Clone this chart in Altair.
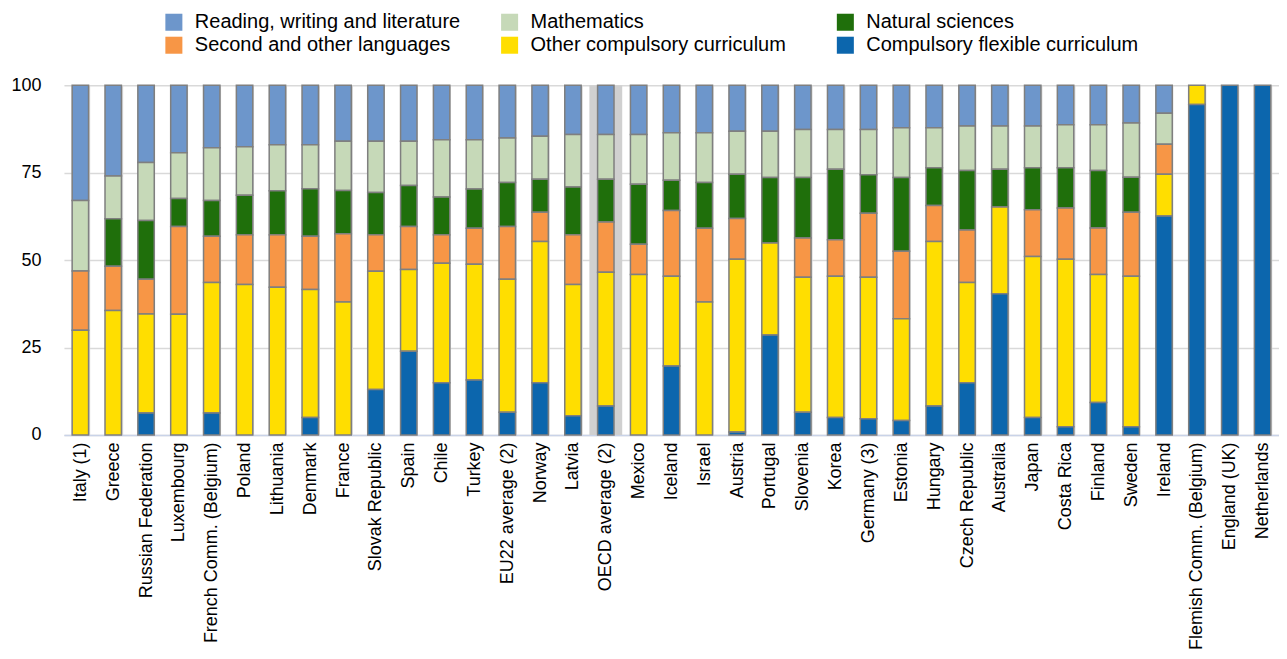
import altair as alt
import pandas as pd

countries = [
    "Italy (1)", "Greece", "Russian Federation", "Luxembourg", "French Comm. (Belgium)",
    "Poland", "Lithuania", "Denmark", "France", "Slovak Republic", "Spain", "Chile",
    "Turkey", "EU22 average (2)", "Norway", "Latvia", "OECD average (2)", "Mexico",
    "Iceland", "Israel", "Austria", "Portugal", "Slovenia", "Korea", "Germany (3)",
    "Estonia", "Hungary", "Czech Republic", "Australia", "Japan", "Costa Rica",
    "Finland", "Sweden", "Ireland", "Flemish Comm. (Belgium)", "England (UK)", "Netherlands",
]

flexible = [0, 0, 6.3, 0, 6.3, 0, 0, 5.0, 0, 13.0, 23.9, 14.9, 15.7, 6.5, 14.9, 5.5, 8.3, 0,
            19.7, 0, 0.8, 28.6, 6.5, 5.0, 4.6, 4.1, 8.3, 14.9, 40.4, 5.0, 2.3, 9.3, 2.3,
            62.6, 94.5, 100, 100]
other = [29.9, 35.6, 28.3, 34.5, 37.3, 43.0, 42.2, 36.6, 38.0, 33.8, 23.4, 34.2, 33.1, 38.0,
         40.4, 37.5, 38.2, 45.9, 25.7, 38.0, 49.4, 26.3, 38.6, 40.4, 40.5, 29.1, 47.0, 28.7,
         24.8, 46.0, 47.9, 36.6, 43.1, 11.9, 5.5, 0, 0]
languages = [17.0, 12.6, 9.9, 25.1, 13.2, 14.2, 15.0, 15.2, 19.5, 10.4, 12.3, 8.1, 10.3, 15.1,
             8.4, 14.2, 14.4, 8.6, 18.8, 21.1, 11.7, 0, 11.2, 10.4, 18.3, 19.3, 10.3, 15.0,
             0, 13.4, 14.7, 13.3, 18.3, 8.6, 0, 0, 0]
sciences = [0, 13.6, 16.8, 8.0, 10.2, 11.3, 12.6, 13.6, 12.4, 12.1, 11.7, 10.8, 11.2, 12.6,
            9.4, 13.7, 12.2, 17.2, 8.6, 13.1, 12.6, 18.7, 17.3, 20.2, 11.0, 21.1, 10.8, 17.0,
            10.8, 12.0, 11.5, 16.4, 10.0, 0, 0, 0, 0]
maths = [20.1, 12.2, 16.6, 13.1, 15.1, 13.9, 13.2, 12.6, 14.1, 14.7, 12.7, 16.4, 14.1, 12.7,
         12.3, 15.0, 12.8, 14.2, 13.6, 14.2, 12.3, 13.2, 13.7, 11.3, 12.9, 14.2, 11.4, 12.7,
         12.3, 11.9, 12.3, 13.1, 15.5, 8.9, 0, 0, 0]
reading = [33.0, 26.0, 22.1, 19.3, 17.9, 17.6, 17.0, 17.0, 16.0, 16.0, 16.0, 15.6, 15.6, 15.1,
           14.6, 14.1, 14.1, 14.1, 13.6, 13.6, 13.2, 13.2, 12.7, 12.7, 12.7, 12.2, 12.2, 11.7,
           11.7, 11.7, 11.3, 11.3, 10.8, 8.0, 0, 0, 0]

# legend order (filled column by column: 3 columns x 2 rows)
series_names = [
    "Reading, writing and literature", "Second and other languages",
    "Mathematics", "Other compulsory curriculum",
    "Natural sciences", "Compulsory flexible curriculum",
]
series_colors = ["#6d96cb", "#f79646", "#c6d9b8", "#ffde00", "#1f6f0b", "#0c66ad"]
# stacking order, bottom to top
stack_order = {
    "Compulsory flexible curriculum": 0,
    "Other compulsory curriculum": 1,
    "Second and other languages": 2,
    "Natural sciences": 3,
    "Mathematics": 4,
    "Reading, writing and literature": 5,
}
series_values = {
    "Reading, writing and literature": reading,
    "Mathematics": maths,
    "Natural sciences": sciences,
    "Second and other languages": languages,
    "Other compulsory curriculum": other,
    "Compulsory flexible curriculum": flexible,
}
highlight = ["OECD average (2)"]

rows = []
for s, vals in series_values.items():
    for c, v in zip(countries, vals):
        if v > 0:
            rows.append({"country": c, "subject": s, "value": v, "ord": stack_order[s]})
df = pd.DataFrame(rows)
hl = pd.DataFrame({"country": highlight, "top": [100]})

FONT = "Liberation Sans"

xenc = alt.X(
    "country:N",
    sort=countries,
    scale=alt.Scale(paddingInner=0.5, paddingOuter=0.25),
    axis=alt.Axis(
        title=None, labelAngle=-90, labelFontSize=18, labelColor="#000000",
        ticks=False, tickSize=0, labelPadding=7, grid=True, tickBand="extent",
        gridColor="#d9d9d9", gridWidth=1.5, domainColor="#c9d3e8", domainWidth=1.5,
        labelLimit=400, labelFont=FONT,
    ),
)

band = alt.Chart(hl).mark_bar(color="#d0d0d0", width=alt.RelativeBandSize(2)).encode(
    x=alt.X("country:N", sort=countries),
    y=alt.Y("top:Q"),
)

bars = alt.Chart(df).mark_bar(stroke="#7f7f7f", strokeWidth=1.5).encode(
    x=xenc,
    y=alt.Y(
        "value:Q",
        stack="zero",
        scale=alt.Scale(domain=[0, 100], nice=False),
        axis=alt.Axis(
            title=None, values=[0, 25, 50, 75, 100], ticks=False, tickSize=0,
            domain=False, labelPadding=23, labelFontSize=18, labelColor="#000000",
            gridColor="#d9d9d9", gridWidth=1.5, labelFont=FONT,
        ),
    ),
    color=alt.Color(
        "subject:N",
        scale=alt.Scale(domain=series_names, range=series_colors),
        legend=alt.Legend(
            title=None, orient="none", legendX=100, legendY=-73, columns=3,
            gridAlign="all", columnPadding=32, rowPadding=3, symbolType="square",
            symbolSize=290, symbolStrokeWidth=0, labelFontSize=20, labelOffset=11,
            labelColor="#000000", labelLimit=400, labelFont=FONT,
        ),
    ),
    order=alt.Order("ord:Q", sort="ascending"),
)

chart = (
    alt.layer(band, bars)
    .properties(width=1216, height=350, padding={"left": 2, "top": 4, "right": 0, "bottom": 0})
    .configure(font=FONT)
    .configure_view(stroke=None)
)

chart.save("out.html", embed_options={"renderer": "svg", "actions": False})
